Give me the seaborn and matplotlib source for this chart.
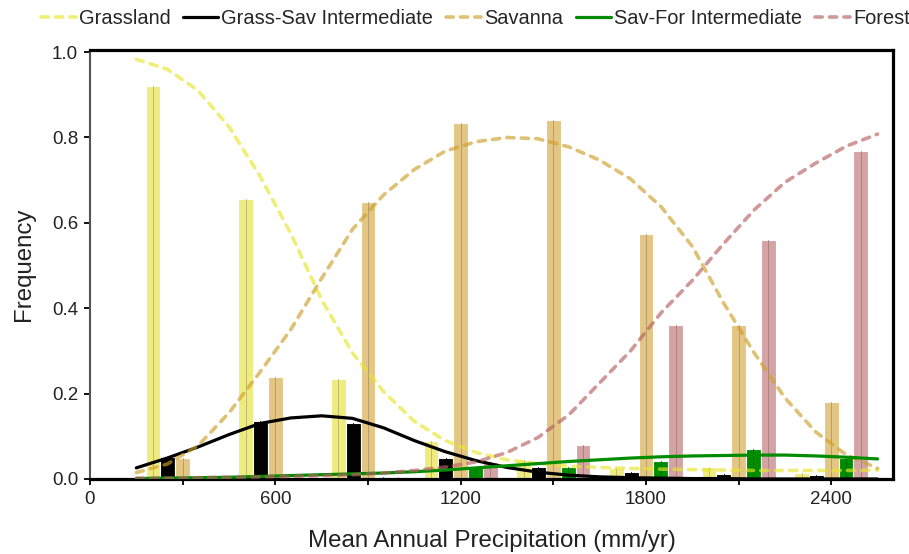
import matplotlib
matplotlib.use("Agg")
import matplotlib.pyplot as plt
import matplotlib.colors as mcolors
import numpy as np
import pandas as pd
import seaborn as sns

# ---------------- data ----------------
series_names = ["Grassland", "Grass-Sav Intermediate", "Savanna",
                "Sav-For Intermediate", "Forest"]

bin_centers = [300, 600, 900, 1200, 1500, 1800, 2100, 2400]
grassland_bars = [0.92, 0.655, 0.234, 0.089, 0.044, 0.025, 0.029, 0.015]
grass_sav_bars = [0.052, 0.136, 0.13, 0.05, 0.027, 0.017, 0.011, 0.009]
savanna_bars = [0.048, 0.24, 0.649, 0.835, 0.841, 0.575, 0.361, 0.18]
sav_for_bars = [0.0, 0.002, 0.005, 0.028, 0.029, 0.041, 0.07, 0.048]
forest_bars = [0.0, 0.0, 0.005, 0.04, 0.08, 0.361, 0.56, 0.768]

curve_x = [150, 250, 350, 450, 550, 650, 750, 850, 950, 1050, 1150, 1250, 1350,
           1450, 1550, 1650, 1750, 1850, 1950, 2050, 2150, 2250, 2350, 2450, 2550]
grassland_curve = [0.983, 0.96, 0.91, 0.825, 0.71, 0.575, 0.42, 0.295, 0.205, 0.135,
                   0.09, 0.062, 0.045, 0.036, 0.03, 0.027, 0.025, 0.023, 0.022, 0.021,
                   0.02, 0.02, 0.02, 0.02, 0.021]
grass_sav_curve = [0.026, 0.049, 0.075, 0.104, 0.13, 0.143, 0.148, 0.142, 0.12, 0.09,
                   0.064, 0.043, 0.027, 0.016, 0.009, 0.005, 0.003, 0.002, 0.001, 0.001,
                   0.0, 0.0, 0.0, 0.0, 0.0]
savanna_curve = [0.015, 0.035, 0.078, 0.155, 0.25, 0.35, 0.47, 0.585, 0.665, 0.725,
                 0.768, 0.79, 0.8, 0.797, 0.778, 0.747, 0.703, 0.637, 0.545, 0.414,
                 0.296, 0.19, 0.11, 0.056, 0.025]
sav_for_curve = [0.001, 0.002, 0.003, 0.004, 0.006, 0.008, 0.01, 0.012, 0.014, 0.017,
                 0.021, 0.026, 0.031, 0.036, 0.041, 0.045, 0.049, 0.052, 0.054, 0.055,
                 0.056, 0.056, 0.054, 0.051, 0.047]
forest_curve = [0.002, 0.002, 0.003, 0.004, 0.005, 0.006, 0.008, 0.01, 0.014, 0.02,
                0.028, 0.04, 0.062, 0.097, 0.15, 0.225, 0.3, 0.39, 0.465, 0.55,
                0.63, 0.695, 0.74, 0.78, 0.808]

x_ticks = [0, 600, 1200, 1800, 2400]
y_ticks = [0.0, 0.2, 0.4, 0.6, 0.8, 1.0]

# ---------------- styles ----------------
bar_colors = ["#EEEC80", "#000000", "#E3C684", "#008C00", "#D4A3A3"]
line_colors = ["#E7E72F", "#000000", "#CFA02B", "#008C00", "#B76161"]
line_alpha = [0.65, 1.0, 0.65, 1.0, 0.65]
line_dashed = [True, False, True, False, True]

sns.set_theme(style="ticks")
plt.rcParams["font.family"] = ["Liberation Sans", "DejaVu Sans"]

fig = plt.figure(figsize=(9.09, 5.54), dpi=100)
ax = fig.add_axes([0.099, 0.1354, 0.8834, 0.7744])

bars_df = pd.DataFrame({
    "mm": bin_centers * 5,
    "freq": grassland_bars + grass_sav_bars + savanna_bars + sav_for_bars + forest_bars,
    "type": [n for n in series_names for _ in bin_centers],
})

sns.barplot(data=bars_df, x="mm", y="freq", hue="type", hue_order=series_names,
            palette=bar_colors, native_scale=True, errorbar=None, saturation=1,
            legend=False, edgecolor="white", linewidth=0.8, ax=ax)

# thin darker line through the middle of each bar
for p in list(ax.patches):
    h = p.get_height()
    if h <= 0:
        continue
    fc = np.array(mcolors.to_rgb(p.get_facecolor()))
    cx = p.get_x() + p.get_width() / 2
    ax.plot([cx, cx], [0, h], color=tuple(fc * 0.8), lw=0.7, zorder=2.5)

curves = [grassland_curve, grass_sav_curve, savanna_curve, sav_for_curve, forest_curve]
handles = []
for name, vals, c, a, dashed in zip(series_names, curves, line_colors, line_alpha, line_dashed):
    sns.lineplot(x=curve_x, y=vals, color=c, alpha=a, ax=ax, label=name,
                 lw=2.6 if dashed else 2.3, legend=False, zorder=3)
    ln = ax.lines[-1]
    ln.set_solid_joinstyle("round")
    if dashed:
        ln.set_dashes((2.0, 2.0))
        ln.set_dash_capstyle("round")
    handles.append(ln)

ax.set_xlim(0, 2600)
ax.set_ylim(0, 1.005)
ax.set_xticks(x_ticks)
ax.set_xticks([300, 900, 1500, 2100], minor=True)
ax.set_yticks(y_ticks)
ax.set_yticklabels([f"{v:.1f}" for v in y_ticks])
ax.tick_params(axis="both", which="major", length=4, width=1.3, color="black",
               labelsize=13.5, pad=4.5, labelcolor="#222222")
ax.tick_params(axis="x", which="minor", length=4, width=1.3, color="black")

for s in ["top", "right", "bottom"]:
    ax.spines[s].set_color("black")
    ax.spines[s].set_linewidth(2.3)
ax.spines["left"].set_color("#555555")
ax.spines["left"].set_linewidth(1.5)

ax.set_xlabel("Mean Annual Precipitation (mm/yr)", fontsize=17.3, color="#222222")
ax.set_ylabel("Frequency", fontsize=17.3, color="#222222")
ax.xaxis.set_label_coords(0.5, -0.12)
ax.yaxis.set_label_coords(-0.068, 0.5)

fig.legend(handles, series_names, loc="center", bbox_to_anchor=(0.523, 0.967),
           ncol=5, frameon=False, handlelength=1.75, handletextpad=0.15,
           columnspacing=0.65, fontsize=14.4, borderaxespad=0, borderpad=0)

fig.savefig("out.png", dpi=100)
